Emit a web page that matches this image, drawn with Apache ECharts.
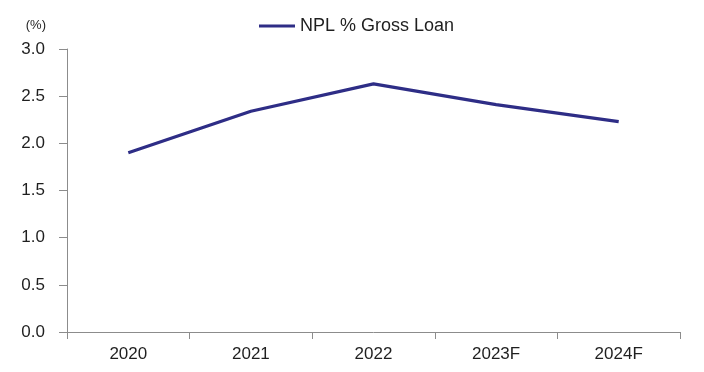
<!DOCTYPE html>
<html>
<head>
<meta charset="utf-8">
<script src="https://cdn.jsdelivr.net/npm/echarts@6/dist/echarts.min.js"></script>
<style>
  html, body { margin: 0; padding: 0; background: #fff; }
  #chart { width: 704px; height: 372px; }
</style>
</head>
<body>
<div id="chart"></div>
<script>
// NPL ratio, percent of gross loans (2023F and 2024F are forecasts)
const years = ['2020', '2021', '2022', '2023F', '2024F'];
const nplPct = [1.9, 2.34, 2.63, 2.41, 2.23];
const seriesName = 'NPL % Gross Loan';
const unitLabel = '(%)';

const textColor = '#1f1f1f';
const axisColor = '#8c8c8c';
const lineColor = '#2e2d86';
const fontFamily = '"Liberation Sans", Arial, sans-serif';

const chart = echarts.init(document.getElementById('chart'), null, { renderer: 'canvas' });

chart.setOption({
  animation: false,
  backgroundColor: '#ffffff',
  textStyle: { fontFamily: fontFamily },
  grid: { left: 67, right: 24, top: 49, bottom: 40, containLabel: false },
  legend: {
    top: 12,
    left: 254,
    icon: 'rect',
    itemWidth: 36,
    itemHeight: 3,
    itemGap: 10,
    textStyle: { color: textColor, fontSize: 18, fontFamily: fontFamily },
    data: [seriesName]
  },
  xAxis: {
    type: 'category',
    data: years,
    boundaryGap: true,
    axisLine: { lineStyle: { color: axisColor, width: 1 } },
    axisTick: { show: true, length: 7, inside: false, alignWithLabel: false, lineStyle: { color: axisColor } },
    axisLabel: { color: textColor, fontSize: 17, margin: 14, fontFamily: fontFamily },
    splitLine: { show: false }
  },
  yAxis: {
    type: 'value',
    min: 0,
    max: 3,
    interval: 0.5,
    name: unitLabel,
    nameLocation: 'end',
    nameGap: 24,
    nameTextStyle: { color: textColor, fontSize: 13, align: 'right', verticalAlign: 'middle', padding: [0, 21, 0, 0], fontFamily: fontFamily },
    axisLine: { show: true, lineStyle: { color: axisColor, width: 1 } },
    axisTick: { show: true, length: 8, inside: false, lineStyle: { color: axisColor } },
    axisLabel: {
      color: textColor,
      fontSize: 17,
      margin: 22,
      fontFamily: fontFamily,
      formatter: v => v.toFixed(1)
    },
    splitLine: { show: false }
  },
  series: [{
    name: seriesName,
    type: 'line',
    data: nplPct,
    symbol: 'none',
    smooth: false,
    lineStyle: { color: lineColor, width: 3.2 },
    itemStyle: { color: lineColor }
  }]
});
</script>
</body>
</html>
